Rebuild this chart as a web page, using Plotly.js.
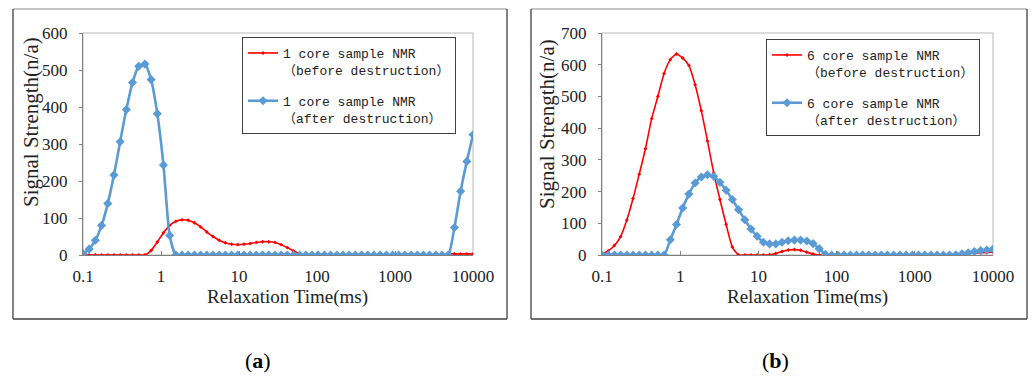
<!DOCTYPE html>
<html>
<head>
<meta charset="utf-8">
<script src="https://cdn.plot.ly/plotly-3.0.1.min.js"></script>
<style>html,body{margin:0;padding:0;background:#fff;}#chart{width:1034px;height:377px;}</style>
</head>
<body>
<div id="chart"></div>
<script>
// Relaxation times (ms), log-spaced NMR T2 grid
const relaxTime = [0.1, 0.12, 0.1441, 0.173, 0.2077, 0.2494, 0.2994, 0.3594, 0.4314, 0.5179,
  0.6218, 0.7465, 0.8962, 1.076, 1.292, 1.551, 1.862, 2.235, 2.683, 3.221,
  3.867, 4.642, 5.573, 6.69, 8.031, 9.642, 11.58, 13.9, 16.68, 20.03,
  24.04, 28.86, 34.65, 41.6, 49.94, 59.95, 71.98, 86.41, 103.7, 124.5,
  149.5, 179.5, 215.4, 258.6, 310.5, 372.8, 447.5, 537.2, 645, 774.3,
  929.5, 1116, 1340, 1608, 1931, 2318, 2783, 3341, 4010, 4814,
  5780, 6939, 8330, 10000];

// Panel (a): core sample 1
const core1Before = [0,0,0,0,0,0,0,0,0,0,
  0,12,35,60,80,91,95,94,87,76,
  62,50,40,33,29,28,29,31,34,36,
  36,34,28,20,11,3,0,0,0,0,
  0,0,0,0,0,0,0,0,0,0,
  0,0,0,0,0,0,0,0,2,3,
  3,3,3,3];
const core1After = [4,16,40,80,139,216,306,393,466,510,
  516,474,382,243,53,0,0,0,0,0,
  0,0,0,0,0,0,0,0,0,0,
  0,0,0,0,0,0,0,0,0,0,
  0,0,0,0,0,0,0,0,0,0,
  0,0,0,0,0,0,0,0,0,0,
  74,172,253,325];

// Panel (b): core sample 6
const core6Before = [3,13,30,58,110,178,255,335,430,500,
  572,616,634,621,598,537,455,359,259,175,
  96,25,0,0,0,0,0,1,5,11,
  16,17,15,9,3,0,0,0,0,0,
  0,0,0,0,0,0,0,0,0,0,
  0,0,0,0,0,1,2,3,4,5,
  6,7,8,9];
const core6After = [0,0,0,0,0,0,0,0,0,0,
  0,48,96,148,192,227,246,253,248,229,
  204,175,143,111,82,59,40,35,35,40,
  45,47,47,44,36,20,2,0,0,0,
  0,0,0,0,0,0,0,0,0,0,
  0,0,0,0,0,0,0,1,4,7,
  11,14,16,19];

const xTickVals = [0.1, 1, 10, 100, 1000, 10000];
const xTickText = ['0.1', '1', '10', '100', '1000', '10000'];
const names1 = ['1 core sample NMR<br>（before destruction）', '1 core sample NMR<br>（after destruction）'];
const names6 = ['6 core sample NMR<br>（before destruction）', '6 core sample NMR<br>（after destruction）'];

// geometry helpers (pixel -> paper)
const M = {l: 83, r: 41, t: 33, b: 122};
const W = 1034, H = 377;
const PW = W - M.l - M.r, PH = H - M.t - M.b;
const px = X => (X - M.l) / PW;
const py = Y => (H - M.b - Y) / PH;

const RED = '#ff0000', BLUE = '#5b9bd5';
function redTrace(y, name, xa, ya, lg) {
  return {x: relaxTime, y: y, name: name, type: 'scatter', mode: 'lines+markers',
    xaxis: xa, yaxis: ya, legend: lg, legendgroup: lg + 'r',
    line: {color: RED, width: 1.6, shape: 'spline', smoothing: 0.6},
    marker: {symbol: 'diamond', size: 3, color: RED}};
}
function blueTrace(y, name, xa, ya, lg) {
  return {x: relaxTime, y: y, name: name, type: 'scatter', mode: 'lines+markers',
    xaxis: xa, yaxis: ya, legend: lg, legendgroup: lg + 'b',
    line: {color: BLUE, width: 2.6, shape: 'spline', smoothing: 0.6},
    marker: {symbol: 'diamond', size: 7, color: BLUE}};
}

const data = [
  redTrace(core1Before, names1[0], 'x', 'y', 'legend'),
  blueTrace(core1After, names1[1], 'x', 'y', 'legend'),
  redTrace(core6Before, names6[0], 'x2', 'y2', 'legend2'),
  blueTrace(core6After, names6[1], 'x2', 'y2', 'legend2')
];

const tickFont = {family: 'Liberation Serif', size: 17, color: '#222'};
function xAx(dom, anchor) {
  return {domain: dom, anchor: anchor, type: 'log', range: [-1, 4],
    tickmode: 'array', tickvals: xTickVals, ticktext: xTickText,
    ticks: 'inside', ticklen: 4, tickcolor: '#808080',
    showline: true, linecolor: '#808080', linewidth: 1,
    showgrid: false, zeroline: false, tickfont: tickFont, ticklabelstandoff: 6};
}
function yAx(max, anchor) {
  return {domain: [0, 1], anchor: anchor, range: [0, max], dtick: 100,
    ticks: 'outside', ticklen: 3, tickcolor: '#808080',
    showline: true, linecolor: '#808080', linewidth: 1,
    showgrid: false, zeroline: false, tickfont: tickFont, ticklabelstandoff: 8};
}
const legFont = {family: 'Liberation Mono, Noto Sans CJK SC, monospace', size: 13, color: '#222'};
function legend(X, Y) {
  return {x: px(X), y: py(Y), xanchor: 'left', yanchor: 'top',
    bgcolor: '#ffffff', bordercolor: '#404040', borderwidth: 1,
    font: legFont, valign: 'top', traceorder: 'grouped', tracegroupgap: 11};
}
function frame(x0, x1, y0, y1) {
  const dark = {color: '#404040', width: 1.3}, light = {color: '#b0b0b0', width: 1.3};
  return [
    {type: 'line', xref: 'paper', yref: 'paper', x0: px(x0), x1: px(x1), y0: py(y0), y1: py(y0), line: light},
    {type: 'line', xref: 'paper', yref: 'paper', x0: px(x0), x1: px(x1), y0: py(y1), y1: py(y1), line: dark},
    {type: 'line', xref: 'paper', yref: 'paper', x0: px(x0), x1: px(x0), y0: py(y0), y1: py(y1), line: dark},
    {type: 'line', xref: 'paper', yref: 'paper', x0: px(x1), x1: px(x1), y0: py(y0), y1: py(y1), line: dark}
  ];
}
const plotBorder = (xr, yr) => ({type: 'rect', xref: xr + ' domain', yref: yr + ' domain',
  x0: 0, x1: 1, y0: 0, y1: 1, line: {color: '#b8b8b8', width: 1}, layer: 'below'});

const xTitleFont = {family: 'Liberation Serif', size: 19, color: '#222'};
const yTitleFont = {family: 'Liberation Serif', size: 21, color: '#222'};
const capFont = {family: 'Liberation Serif', size: 22, color: '#000'};
function ann(text, X, Y, font, angle) {
  return {text: text, xref: 'paper', yref: 'paper', x: px(X), y: py(Y),
    xanchor: 'center', yanchor: 'middle', showarrow: false, font: font, textangle: angle || 0};
}

const layout = {
  width: W, height: H, margin: M,
  paper_bgcolor: '#ffffff', plot_bgcolor: '#ffffff',
  xaxis: xAx([0, px(473)], 'y'),
  yaxis: yAx(600, 'x'),
  xaxis2: xAx([px(602), 1], 'y2'),
  yaxis2: yAx(700, 'x2'),
  legend: legend(242, 37),
  legend2: legend(766, 39),
  shapes: [].concat(frame(13, 507, 9, 319), frame(531, 1027, 9, 319),
    [plotBorder('x', 'y'), plotBorder('x2', 'y2')]),
  annotations: [
    ann('Signal Strength(n/a)', 31, 122, yTitleFont, -90),
    ann('Relaxation Time(ms)', 287, 297, xTitleFont),
    ann('Signal Strength(n/a)', 547, 124, yTitleFont, -90),
    ann('Relaxation Time(ms)', 807, 297, xTitleFont),
    ann('(<b>a</b>)', 258, 360, capFont),
    ann('(<b>b</b>)', 775, 360, capFont)
  ]
};

Plotly.newPlot('chart', data, layout, {staticPlot: true, displayModeBar: false});
</script>
</body>
</html>
